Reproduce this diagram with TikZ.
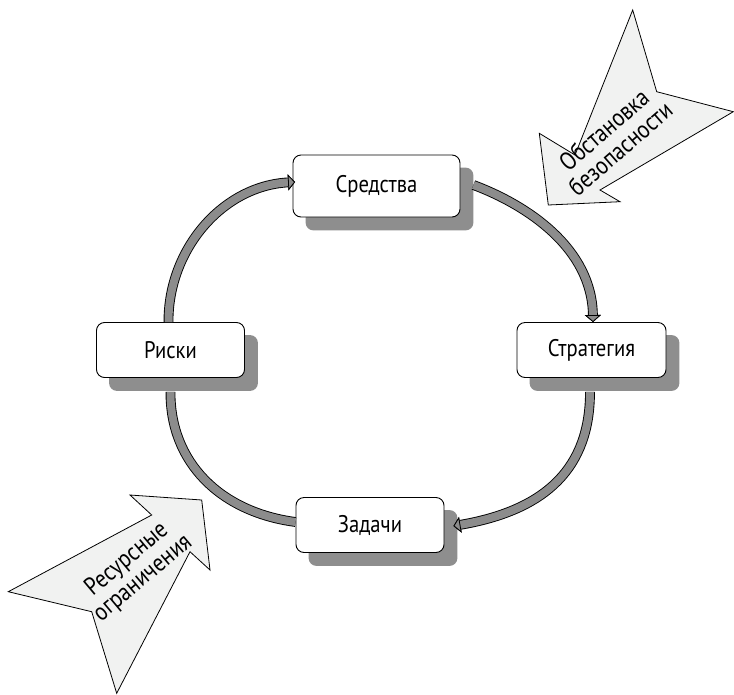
\documentclass[tikz,border=0pt]{standalone}
\usepackage{fontspec}
\setmainfont{PT Sans}[FakeStretch=0.86]
\usetikzlibrary{arrows.meta}
\definecolor{bandgray}{HTML}{8C8C8C}
\definecolor{shadgray}{HTML}{8E8E8E}
\definecolor{arrfill}{HTML}{F1F2F1}
\pgfdeclarelayer{shadowl}
\pgfsetlayers{shadowl,main}
\begin{document}
\begin{tikzpicture}[x=1pt,y=-1pt,
  box/.style={draw=black, line width=0.9pt, fill=white, rounded corners=8pt, inner sep=0pt, font=\fontsize{24}{26}\selectfont},
  shadowbox/.style={fill=shadgray, rounded corners=8pt},
  band/.style={preaction={draw=black, line width=9.8pt}, draw=bandgray, line width=8pt},
  bandtip/.style={-{Triangle[length=7pt, width=16pt, fill=bandgray, color=black, line width=0.8pt]}},
  blockarrow/.style={draw=black, line width=0.8pt, fill=arrfill, line join=miter},
  arrlabel/.style={font=\fontsize{25}{25}\selectfont, align=center, inner sep=0pt}]
\useasboundingbox (0,0) rectangle (734,694);

% block arrows
\draw[blockarrow] (632.7,10) -- (656.7,91.7) -- (733.3,111.7) -- (600,190) -- (620,201.7) -- (548.3,205) -- (539.3,133.3) -- (575,155) -- cycle;
\node[arrlabel, rotate=41] (lab1) at (612,139) {Обстановка\\безопасности};

\draw[blockarrow] (201.7,500) -- (210,570) -- (190,551.7) -- (116.7,693.3) -- (91.7,611.7) -- (8.3,591.7) -- (151.7,515) -- (130,495) -- cycle;
\node[arrlabel, rotate=40] (lab2) at (135,569) {Ресурсные\\ограничения};

% boxes
\node[box, minimum width=167pt, minimum height=62pt] (sred) at (376.5,186) {\raisebox{4pt}{Средства}};
\node[box, minimum width=149pt, minimum height=55pt] (strat) at (591.5,350) {Стратегия};
\node[box, minimum width=148pt, minimum height=55pt] (rk) at (170.5,350) {Риски};
\node[box, minimum width=148pt, minimum height=55pt] (zad) at (370,525) {Задачи};

% shadows
\begin{pgfonlayer}{shadowl}
\foreach \n in {sred,strat,rk,zad}{
  \fill[shadowbox] ([shift={(13pt,-13pt)}]\n.south west) rectangle ([shift={(13pt,-13pt)}]\n.north east);
}
\end{pgfonlayer}

% connectors
\draw[band, bandtip] ([xshift=-2pt]rk.north) .. controls (168,250) and (222,186) .. ([shift={(2.5pt,4pt)}]sred.west);
\draw[band, bandtip] ([xshift=13pt,yshift=1pt]sred.east) .. controls (527,205) and (592,248) .. ([xshift=1.5pt]strat.north);
\draw[band, bandtip] ([xshift=-1.5pt,yshift=-14pt]strat.south) .. controls (590,467) and (547,510) .. ([xshift=9pt,yshift=-1pt]zad.east);
\draw[band] ([yshift=-14pt]rk.south) .. controls (170,462) and (220,512) .. ([yshift=3pt]zad.west);
\end{tikzpicture}
\end{document}
